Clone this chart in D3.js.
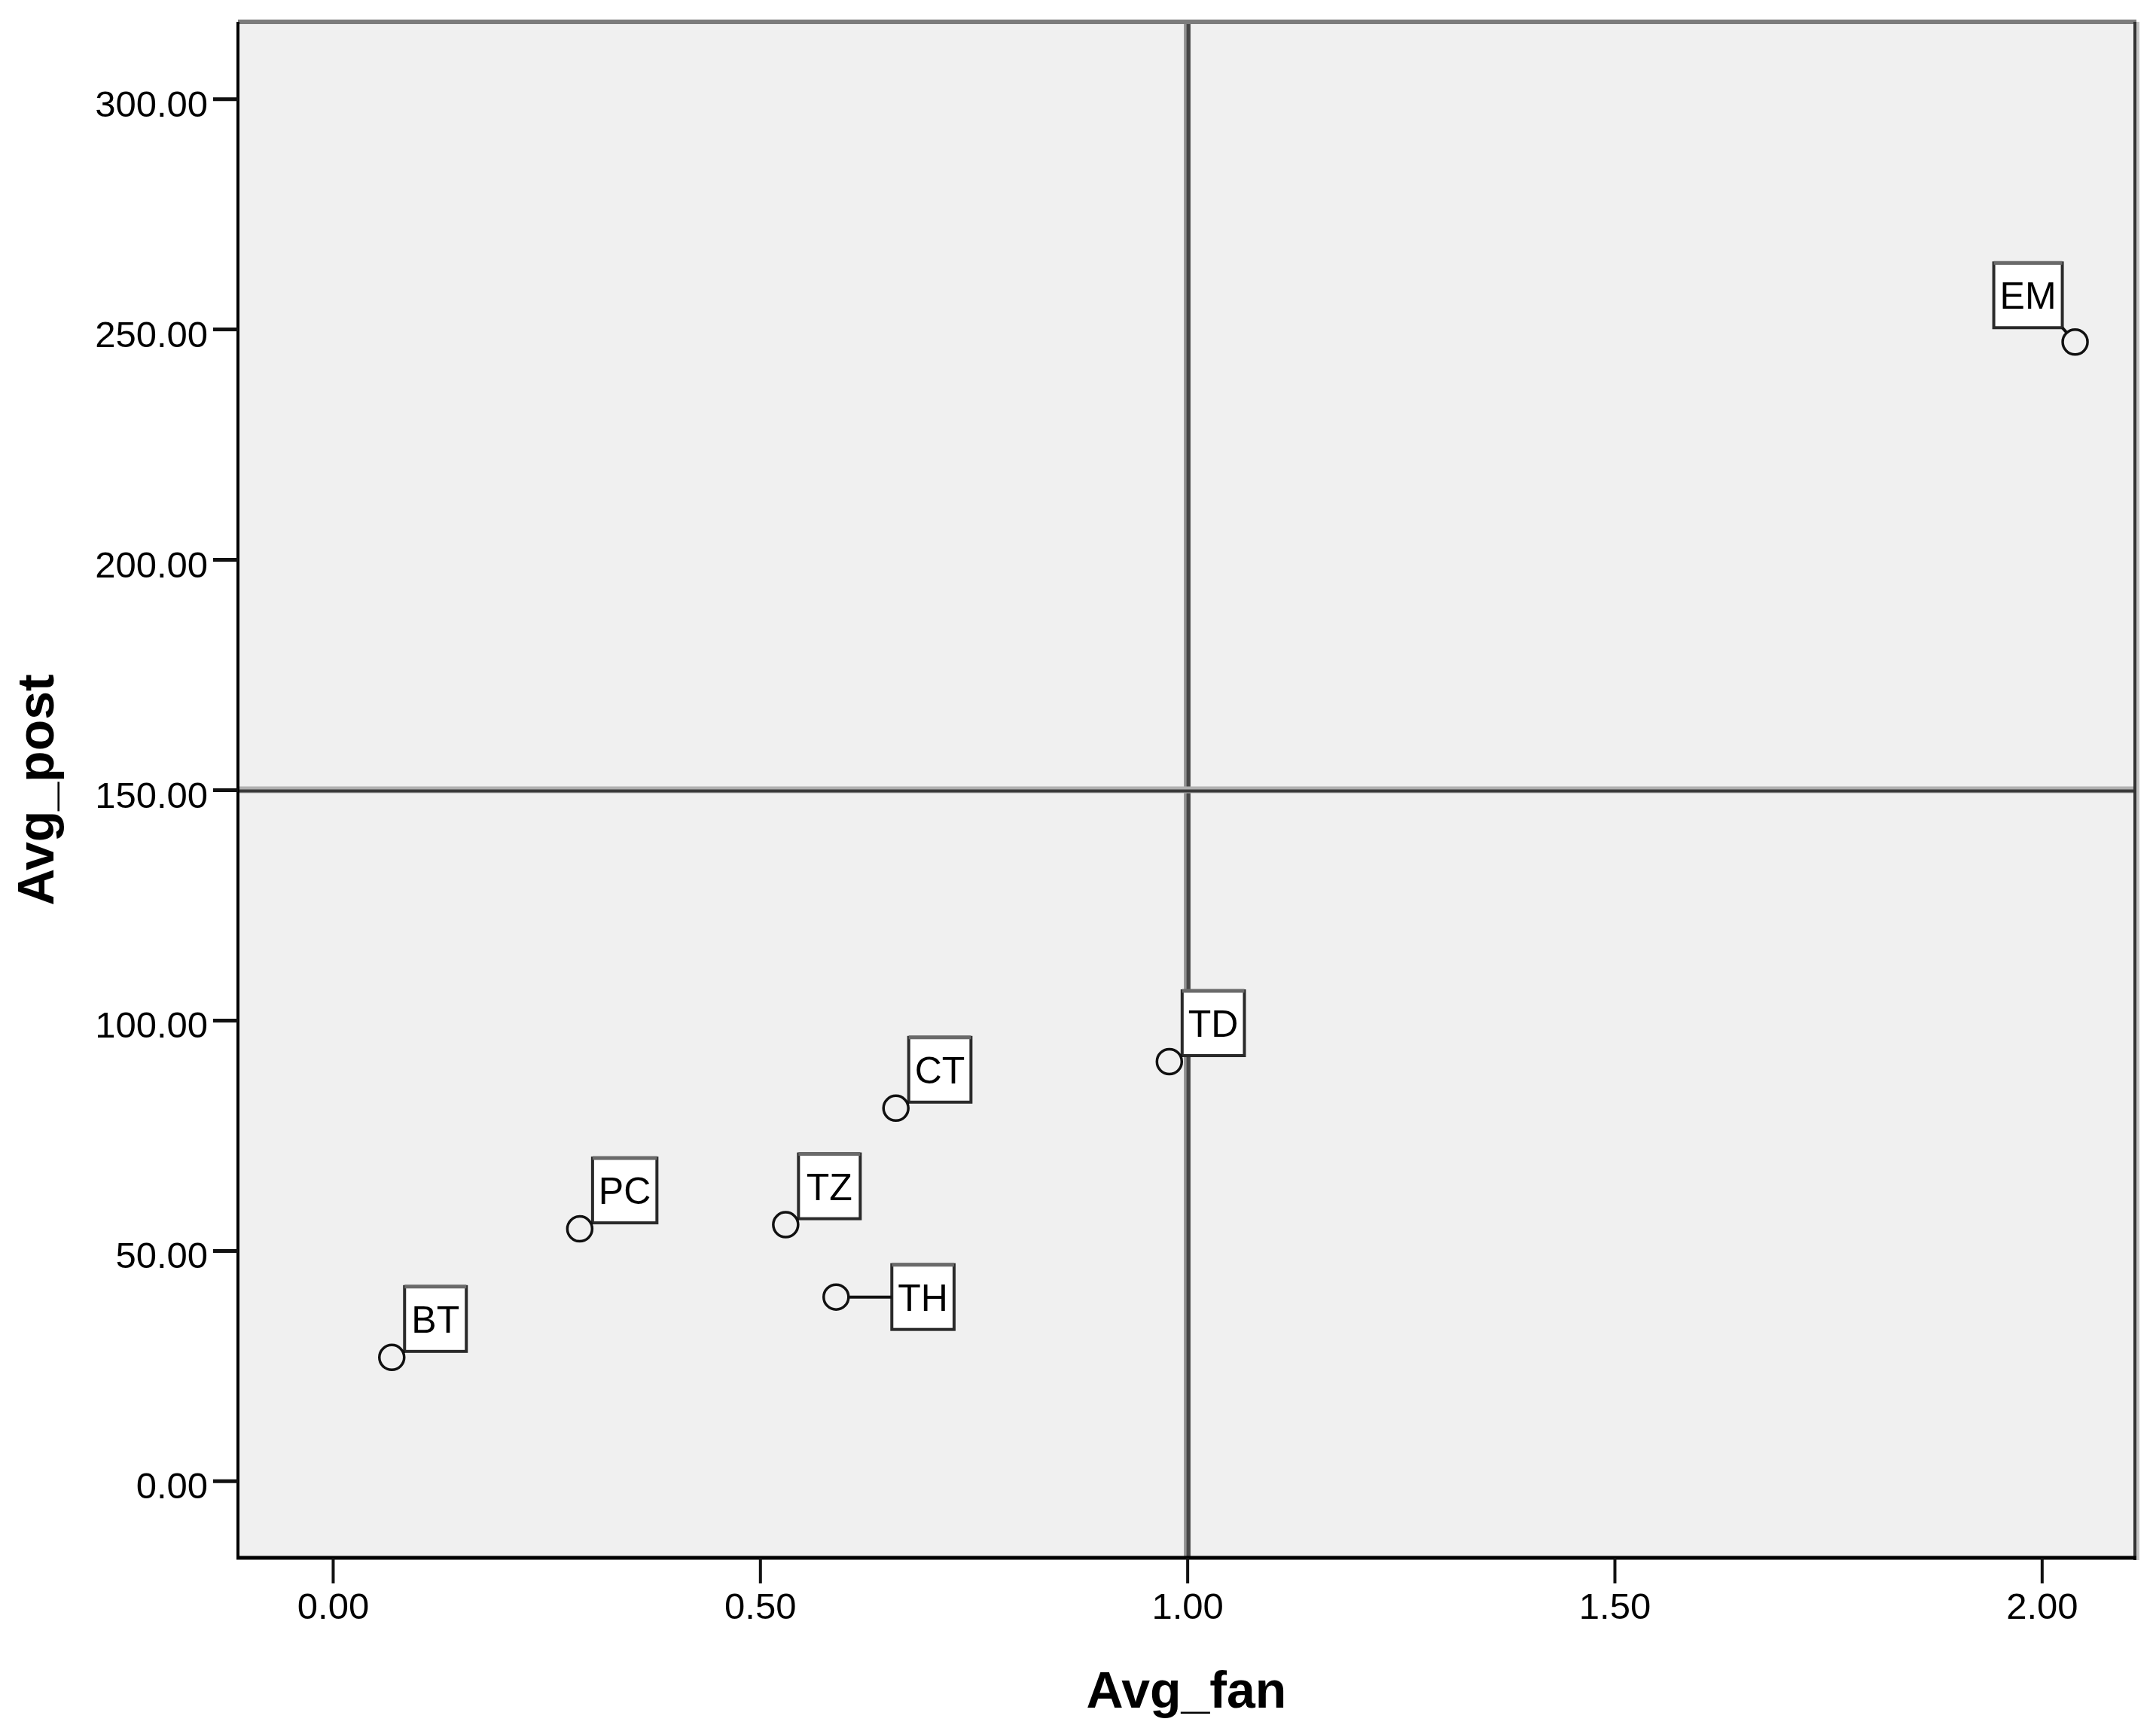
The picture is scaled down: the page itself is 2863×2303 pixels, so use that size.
<!DOCTYPE html>
<html>
<head>
<meta charset="utf-8">
<script src="https://cdn.jsdelivr.net/npm/d3@7"></script>
<style>
  html, body { margin: 0; padding: 0; background: #ffffff; }
  svg { display: block; }
  text { font-family: "Liberation Sans", Arial, sans-serif; fill: #000; }
</style>
</head>
<body>
<script>
// ---- data ----
const names   = ["BT", "PC", "TZ", "TH", "CT", "TD", "EM"];
const avgFan  = [0.069, 0.289, 0.530, 0.589, 0.659, 0.979, 2.039];
const avgPost = [26.8, 54.7, 55.6, 39.9, 80.9, 91.0, 247.2];
const xTicks  = [0.00, 0.50, 1.00, 1.50, 2.00];
const yTicks  = [0, 50, 100, 150, 200, 250, 300];
const refX = 1.00;
const refY = 150;
const xTitle = "Avg_fan";
const yTitle = "Avg_post";

// ---- label placement (layout only) ----
const placement = { BT: "ur", PC: "ur", TZ: "ur", TH: "r", CT: "ur", TD: "ur", EM: "ul" };

const W = 2863, H = 2303;
const L = 316, R = 2835, T = 29, B = 2069;

const svg = d3.select("body").append("svg").attr("width", W).attr("height", H);

const x = d3.scaleLinear().domain([-0.111, 2.109]).range([L, R]);
const y = d3.scaleLinear().domain([-16.7, 316.7]).range([B, T]);

// plot background
svg.append("rect").attr("x", L).attr("y", T).attr("width", R - L).attr("height", B - T).attr("fill", "#f0f0f0");

// reference lines
svg.append("line").attr("x1", x(refX)).attr("x2", x(refX)).attr("y1", T).attr("y2", B)
  .attr("stroke", "#909090").attr("stroke-width", 9);
svg.append("line").attr("x1", x(refX) + 1.5).attr("x2", x(refX) + 1.5).attr("y1", T).attr("y2", B)
  .attr("stroke", "#454545").attr("stroke-width", 5);
svg.append("line").attr("x1", L).attr("x2", R).attr("y1", y(refY)).attr("y2", y(refY))
  .attr("stroke", "#b0b0b0").attr("stroke-width", 9);
svg.append("line").attr("x1", L).attr("x2", R).attr("y1", y(refY) + 1.5).attr("y2", y(refY) + 1.5)
  .attr("stroke", "#3a3a3a").attr("stroke-width", 4);

// frame
svg.append("line").attr("x1", L).attr("x2", R + 2).attr("y1", T).attr("y2", T).attr("stroke", "#7c7c7c").attr("stroke-width", 6);
svg.append("line").attr("x1", R + 4).attr("x2", R + 4).attr("y1", T).attr("y2", B + 3).attr("stroke", "#c4c4c4").attr("stroke-width", 4);
svg.append("line").attr("x1", R).attr("x2", R).attr("y1", T).attr("y2", B + 3).attr("stroke", "#333").attr("stroke-width", 4);
svg.append("line").attr("x1", L).attr("x2", L).attr("y1", T).attr("y2", B + 2).attr("stroke", "#000").attr("stroke-width", 4);
svg.append("line").attr("x1", L - 2).attr("x2", R + 2).attr("y1", B).attr("y2", B).attr("stroke", "#000").attr("stroke-width", 5);

// axes
const fmt = d3.format(".2f");
const gx = svg.append("g").attr("transform", `translate(0,${B})`)
  .call(d3.axisBottom(x).tickValues(xTicks).tickFormat(fmt).tickSize(34).tickSizeOuter(0));
gx.select(".domain").remove();
gx.selectAll(".tick line").attr("stroke", "#111").attr("stroke-width", 4);
gx.selectAll(".tick text").attr("y", 81).attr("dy", 0)
  .style("font-size", "49px").style("font-family", "'Liberation Sans', Arial, sans-serif").attr("fill", "#000");

const gy = svg.append("g").attr("transform", `translate(${L},0)`)
  .call(d3.axisLeft(y).tickValues(yTicks).tickFormat(fmt).tickSize(33).tickSizeOuter(0));
gy.select(".domain").remove();
gy.selectAll(".tick line").attr("stroke", "#111").attr("stroke-width", 5);
gy.selectAll(".tick text").attr("x", -40).attr("dy", 0).attr("y", 23)
  .style("font-size", "49px").style("font-family", "'Liberation Sans', Arial, sans-serif").attr("fill", "#000");

// axis titles
svg.append("text").attr("x", (L + R) / 2).attr("y", 2268).attr("text-anchor", "middle")
  .style("font-size", "68px").style("font-weight", "bold").text(xTitle);
svg.append("text").attr("transform", `translate(71,${(T + B) / 2}) rotate(-90)`).attr("text-anchor", "middle")
  .style("font-size", "68px").style("font-weight", "bold").text(yTitle);

// points + labels
const rad = 16.5;
const pts = names.map((n, i) => ({ name: n, fx: avgFan[i], fy: avgPost[i] }));
const gl = svg.append("g");

pts.forEach(p => {
  const px = x(p.fx), py = y(p.fy);
  const t = gl.append("text").style("font-size", "50px").attr("text-anchor", "middle").text(p.name);
  const tw = t.node().getComputedTextLength();
  const bw = Math.max(82, tw + 16), bh = 86;
  let bx, by, ax, ay;
  const pl = placement[p.name];
  if (pl === "ur") { bx = px + 17; by = py - 8 - bh; ax = bx; ay = by + bh; }
  else if (pl === "ul") { bx = px - 17 - bw; by = py - 19 - bh; ax = bx + bw; ay = by + bh; }
  else { bx = px + 74; by = py - bh / 2; ax = bx; ay = py; }
  // leader line from circle edge to box anchor
  const dx = ax - px, dy = ay - py, dl = Math.hypot(dx, dy);
  if (dl > rad + 1) {
    gl.append("line").attr("x1", px + dx / dl * rad).attr("y1", py + dy / dl * rad)
      .attr("x2", ax).attr("y2", ay).attr("stroke", "#111").attr("stroke-width", 4);
  }
  gl.insert("rect", () => t.node()).attr("x", bx).attr("y", by).attr("width", bw).attr("height", bh)
    .attr("fill", "#fff").attr("stroke", "#2a2a2a").attr("stroke-width", 4);
  gl.insert("line", () => t.node()).attr("x1", bx).attr("x2", bx + bw).attr("y1", by).attr("y2", by)
    .attr("stroke", "#6a6a6a").attr("stroke-width", 5);
  t.attr("x", bx + bw / 2).attr("y", by + bh / 2 + 18);
  gl.append("circle").attr("cx", px).attr("cy", py).attr("r", rad)
    .attr("fill", "none").attr("stroke", "#111").attr("stroke-width", 3.5);
});
</script>
</body>
</html>
